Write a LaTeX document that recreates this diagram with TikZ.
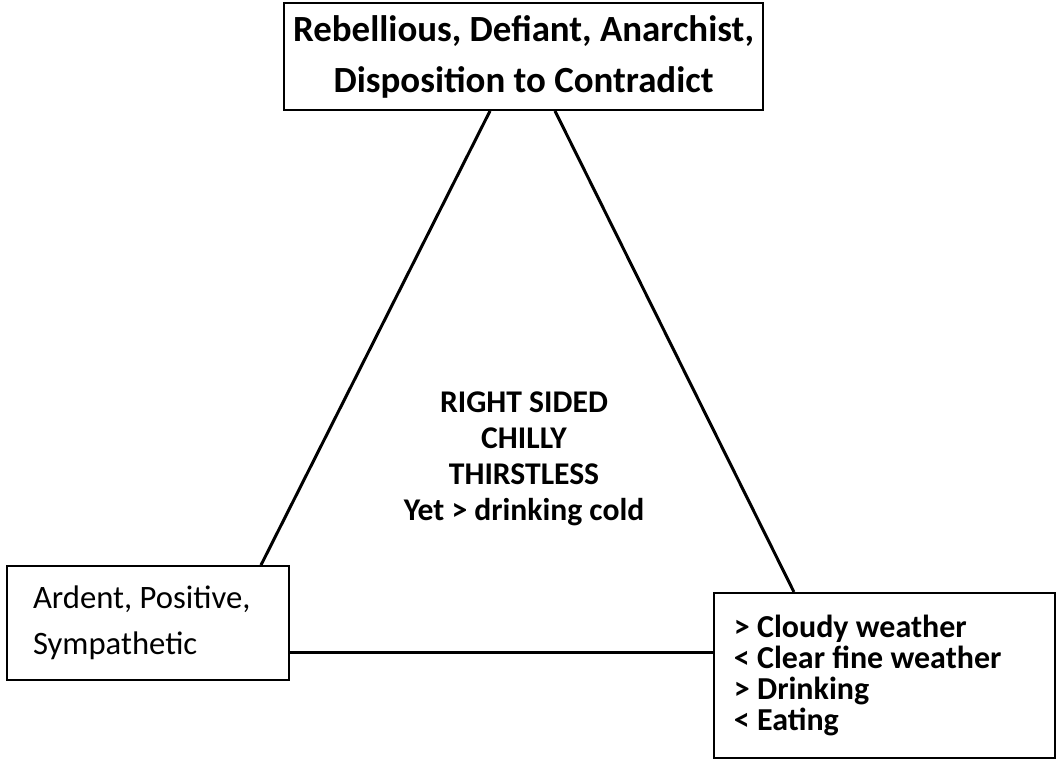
\documentclass[tikz,border=0pt]{standalone}
\usepackage{fontspec}
\setmainfont{Carlito}
\usetikzlibrary{calc}

\begin{document}
\begin{tikzpicture}[x=0.02cm, y=-0.02cm,
  box/.style={draw, line width=1.1pt, inner sep=0pt},
  link/.style={line width=1.7pt}]
  \useasboundingbox (0,0) rectangle (1058,758);
  % the three corner boxes
  \node[box, minimum width=9.58cm, minimum height=2.14cm, align=flush center,
        font=\fontsize{21pt}{29pt}\selectfont\bfseries]
    (rebel) at (523.5,56.5) {Rebellious, Defiant, Anarchist,\\Disposition to Contradict};
  \node[box, minimum height=2.28cm, text width=4.60cm, inner xsep=0.52cm, align=flush left,
        font=\fontsize{18.6pt}{26pt}\selectfont]
    (ardent) at (148,623) {Ardent, Positive,\\Sympathetic};
  \node[box, anchor=north west, text width=6.02cm, inner xsep=0.4cm, inner ysep=0.44cm,
        align=flush left, font=\fontsize{18.2pt}{17.6pt}\selectfont\bfseries]
    (modal) at (713,592) {> Cloudy weather\\< Clear fine weather\\> Drinking\\< Eating};
  % middle text
  \node[align=flush center, font=\fontsize{18pt}{20.5pt}\selectfont\bfseries]
    (mid) at (524,459) {RIGHT SIDED\\CHILLY\\THIRSTLESS\\Yet > drinking cold};
  % sides of the triangle
  \draw[link] ($(rebel.south)+(-33.5,0)$) -- ($(ardent.north)+(113,0)$);
  \draw[link] ($(rebel.south)+(31.5,0)$) -- ($(modal.north)+(-90.5,0)$);
  \coordinate (base) at ($(ardent.east)+(0,29)$);
  \draw[link] (base) -- (base -| modal.west);
\end{tikzpicture}
\end{document}
